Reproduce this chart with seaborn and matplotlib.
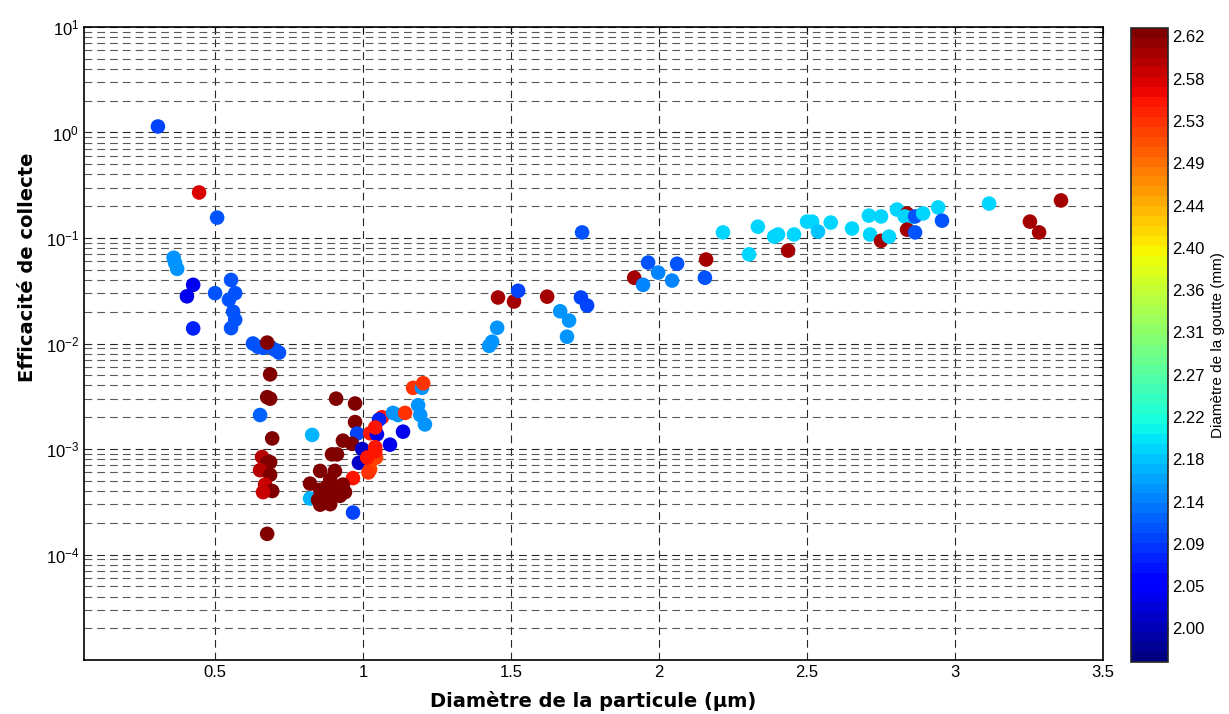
import numpy as np
import pandas as pd
import matplotlib
matplotlib.use("Agg")
import matplotlib.pyplot as plt
import matplotlib.ticker as mticker
import seaborn as sns

sns.set_style("white")
plt.rcParams["font.family"] = ["Liberation Sans", "DejaVu Sans"]
plt.rcParams["mathtext.default"] = "regular"
plt.rcParams["text.color"] = "black"
plt.rcParams["axes.labelcolor"] = "black"
plt.rcParams["xtick.color"] = "black"
plt.rcParams["ytick.color"] = "black"

# particle diameter (um), collection efficiency, drop diameter (mm)
diam_particule = [
    0.307, 0.446, 0.507, 0.360, 0.365, 0.372, 0.426, 0.405, 0.500, 0.554,
    0.568, 0.547, 0.561, 0.568, 0.426, 0.554, 0.628, 0.645, 0.662, 0.686,
    0.703, 0.716, 0.676, 0.686, 0.676, 0.686, 0.652, 0.693, 0.659, 0.676,
    0.686, 0.652, 0.686, 0.669, 0.693, 0.662, 0.676,
    0.828, 0.909, 0.973, 0.973, 0.980, 0.932, 0.963, 0.895, 0.912, 0.997,
    0.986, 0.855, 0.905, 0.821, 0.966, 0.821, 0.855, 0.966,
    0.878, 0.912, 0.932, 0.899, 0.922, 0.855, 0.872, 0.848, 0.889, 0.939, 0.889,
    1.064, 1.054, 1.024, 1.047, 1.041, 1.041, 1.091, 1.135, 1.030, 1.044,
    1.024, 1.014, 1.041, 1.018,
    1.101, 1.118, 1.142, 1.186, 1.193, 1.209, 1.169, 1.199, 1.203,
    1.453, 1.436, 1.426, 1.456, 1.510, 1.524, 1.622, 1.666, 1.696, 1.689,
    1.736, 1.757, 1.740, 1.916, 1.946, 1.963, 1.997, 2.044, 2.061, 2.159, 2.155,
    2.216, 2.304, 2.334, 2.389, 2.402, 2.436, 2.456, 2.500, 2.517, 2.537,
    2.580, 2.652, 2.709, 2.713, 2.750, 2.750, 2.777, 2.804, 2.838, 2.830,
    2.848, 2.838, 2.865, 2.865, 2.892, 2.943, 2.956, 3.115, 3.253, 3.284, 3.358,
]
efficacite = [
    1.14, 0.27, 0.156, 0.065, 0.058, 0.051, 0.036, 0.028, 0.030, 0.040,
    0.030, 0.026, 0.020, 0.0168, 0.0139, 0.0140, 0.0100, 0.0093, 0.0091, 0.0093,
    0.0087, 0.0082, 0.0102, 0.0051, 0.0031, 0.0030, 0.0021, 0.00126, 0.00084, 0.00074,
    0.00075, 0.00063, 0.00057, 0.00046, 0.00040, 0.00039, 0.000157,
    0.00136, 0.0030, 0.0027, 0.0018, 0.0014, 0.0012, 0.00112, 0.00089, 0.00089, 0.0010,
    0.00074, 0.00062, 0.00062, 0.00047, 0.00053, 0.00034, 0.000297, 0.00025,
    0.00044, 0.00041, 0.00046, 0.00038, 0.00036, 0.00041, 0.00035, 0.00033, 0.00030, 0.00039, 0.00051,
    0.0020, 0.0019, 0.00141, 0.00138, 0.0016, 0.00104, 0.0011, 0.00146, 0.00079, 0.00083,
    0.00064, 0.00083, 0.00095, 0.00060,
    0.0022, 0.0021, 0.0022, 0.0026, 0.0021, 0.00171, 0.0038, 0.0038, 0.0042,
    0.0141, 0.0104, 0.0095, 0.0273, 0.0250, 0.0316, 0.0278, 0.0202, 0.0165, 0.0116,
    0.0273, 0.0229, 0.113, 0.042, 0.036, 0.0585, 0.047, 0.0395, 0.057, 0.0625, 0.042,
    0.113, 0.070, 0.128, 0.103, 0.108, 0.076, 0.108, 0.143, 0.143, 0.115,
    0.140, 0.123, 0.163, 0.108, 0.160, 0.094, 0.103, 0.186, 0.170, 0.160,
    0.155, 0.120, 0.160, 0.113, 0.171, 0.195, 0.146, 0.212, 0.143, 0.113, 0.227,
]
diam_goutte = [
    2.09, 2.57, 2.11, 2.15, 2.15, 2.15, 2.03, 2.03, 2.11, 2.11,
    2.11, 2.11, 2.11, 2.11, 2.07, 2.11, 2.11, 2.11, 2.11, 2.11,
    2.11, 2.11, 2.63, 2.63, 2.63, 2.63, 2.12, 2.63, 2.59, 2.63,
    2.63, 2.59, 2.62, 2.58, 2.63, 2.58, 2.63,
    2.17, 2.63, 2.63, 2.63, 2.09, 2.63, 2.63, 2.63, 2.63, 2.01,
    2.01, 2.63, 2.63, 2.63, 2.55, 2.17, 2.63, 2.09,
    2.63, 2.63, 2.63, 2.63, 2.63, 2.63, 2.63, 2.63, 2.63, 2.63, 2.63,
    2.55, 2.07, 2.55, 2.03, 2.55, 2.55, 2.03, 2.03, 2.54, 2.52,
    2.52, 2.55, 2.55, 2.53,
    2.15, 2.15, 2.53, 2.15, 2.15, 2.15, 2.53, 2.15, 2.53,
    2.15, 2.15, 2.15, 2.60, 2.60, 2.09, 2.60, 2.15, 2.15, 2.15,
    2.09, 2.09, 2.10, 2.60, 2.14, 2.10, 2.14, 2.14, 2.11, 2.60, 2.11,
    2.19, 2.19, 2.19, 2.19, 2.19, 2.60, 2.19, 2.19, 2.19, 2.18,
    2.19, 2.19, 2.19, 2.19, 2.19, 2.60, 2.19, 2.19, 2.60, 2.19,
    2.19, 2.60, 2.10, 2.10, 2.19, 2.19, 2.10, 2.19, 2.60, 2.60, 2.60,
]

cbar_labels = ["2.00", "2.05", "2.09", "2.14", "2.18", "2.22", "2.27", "2.31",
               "2.36", "2.40", "2.44", "2.49", "2.53", "2.58", "2.62"]
y_exponents = [-4, -3, -2, -1, 0, 1]
x_ticks = [0.5, 1, 1.5, 2, 2.5, 3, 3.5]

df = pd.DataFrame({"dp": diam_particule, "eff": efficacite, "dg": diam_goutte})

cmin, cmax = 1.965, 2.629
cmap = plt.get_cmap("jet", 64)
norm = matplotlib.colors.Normalize(cmin, cmax)

fig = plt.figure(figsize=(12.29, 7.14), dpi=100)
ax = fig.add_axes([0.0683, 0.0756, 0.8292, 0.8866])

sns.scatterplot(data=df, x="dp", y="eff", hue="dg", palette=cmap, hue_norm=norm,
                s=110, linewidth=0, legend=False, ax=ax, zorder=3)

ax.set_yscale("log")
ax.set_ylim(1e-5, 10)
ax.set_xlim(0.057, 3.5)
ax.set_xticks(x_ticks)
ax.set_xticklabels([f"{t:g}" for t in x_ticks])
ax.set_yticks([10.0 ** e for e in y_exponents])
ax.set_yticklabels([f"$10^{{{e}}}$" for e in y_exponents])
ax.yaxis.set_minor_locator(mticker.LogLocator(base=10, subs=np.arange(2, 10)))
ax.yaxis.set_minor_formatter(mticker.NullFormatter())

dash = (0, (7, 4.5))
ax.grid(True, which="major", axis="both", color="0.15", lw=0.8, ls=dash)
ax.grid(True, which="minor", axis="y", color="0.35", lw=0.8, ls=dash)
ax.set_axisbelow(True)

ax.tick_params(which="both", direction="in", top=True, right=True, labelsize=12)
ax.tick_params(which="major", length=5, width=0.8)
ax.tick_params(which="minor", length=3, width=0.6)
for sp in ax.spines.values():
    sp.set_linewidth(1.2)
    sp.set_color("black")

ax.set_xlabel("Diamètre de la particule (µm)", fontsize=14, fontweight="bold",
              family="DejaVu Sans", labelpad=8)
ax.set_ylabel("Efficacité de collecte", fontsize=14, fontweight="bold",
              family="DejaVu Sans")
ax.yaxis.set_label_coords(-0.046, 0.62)

cax = fig.add_axes([0.920, 0.073, 0.030, 0.888])
sm = matplotlib.cm.ScalarMappable(norm=norm, cmap=cmap)
cb = fig.colorbar(sm, cax=cax)
cb.set_ticks(np.linspace(2.0, 2.62, len(cbar_labels)))
cb.set_ticklabels(cbar_labels)
cb.ax.tick_params(direction="in", left=True, right=True, length=4, labelsize=12)
cb.outline.set_linewidth(1.2)
cb.set_label("Diamètre de la goutte (mm)", fontsize=11, labelpad=4)

fig.savefig("out.png", dpi=100)
